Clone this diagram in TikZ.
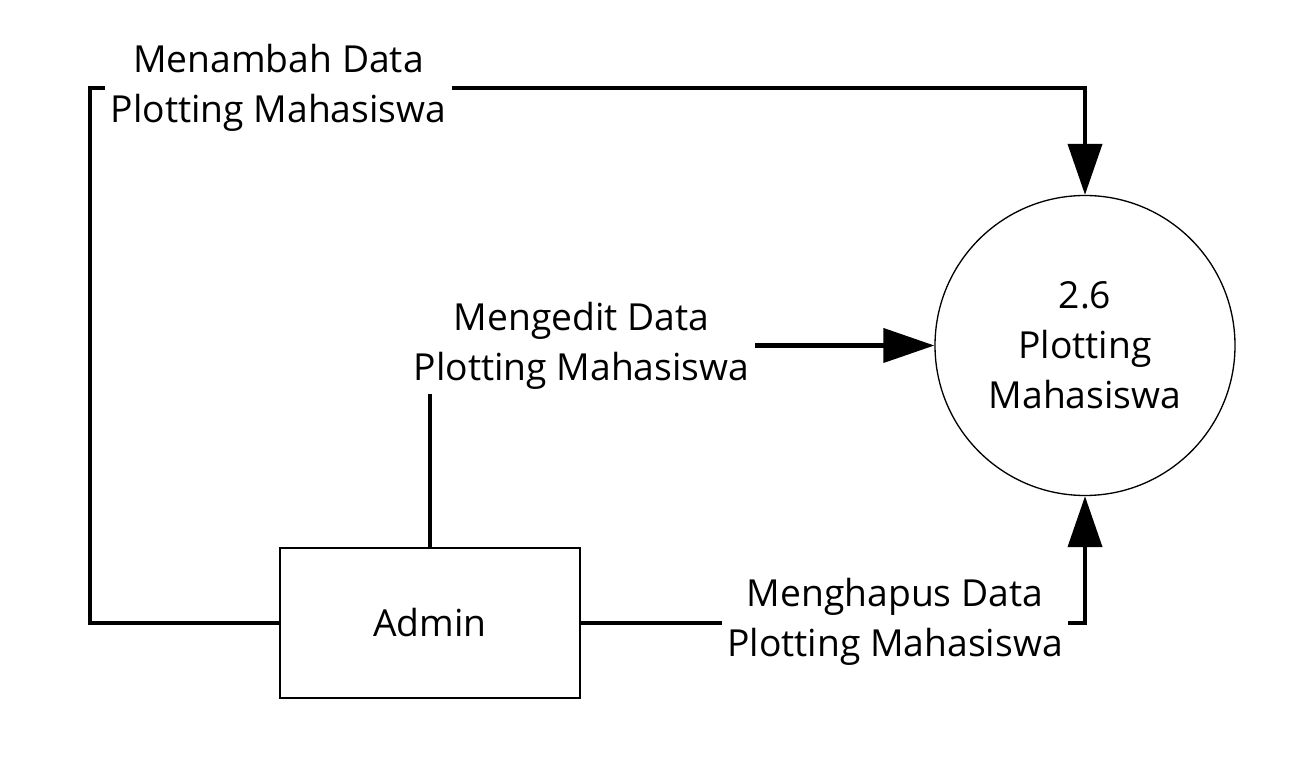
\documentclass[tikz,border=0pt]{standalone}
\usepackage{fontspec}
\setmainfont{Open Sans}
\usepackage{tikz}
\usetikzlibrary{positioning, arrows.meta}

\tikzset{
    proses/.style={circle, draw, line width=0.75pt, minimum size=6cm, align=center},
    entitas/.style={rectangle, draw, line width=0.75pt, minimum width=6cm, minimum height=3cm},
    alur/.style={line width=2.3pt, -{Triangle[length=1.02cm,width=0.68cm]}},
    ket/.style={fill=white, align=center, inner sep=3pt}
}

\begin{document}
\begin{tikzpicture}[font=\fontsize{21.2}{28.5}\selectfont]
        \useasboundingbox (0,0) rectangle (25.78,15.36);
        % Process and entity
        \node[proses] (plot) at (21.7,8.45) {2.6\\Plotting\\Mahasiswa};
        \node[entitas] (admin) at (8.6,2.9) {Admin};
        \coordinate (kiri) at (1.8,13.6);
        % Flows
        \draw[alur] (admin.west) -| (kiri) -| (plot.north);
        \draw[alur] (admin.north) |- (plot.west);
        \draw[alur] (admin.east) -| (plot.south);
        % Labels on flows
        \node[ket] (tambah) at (5.57,13.6) {Menambah Data\\Plotting Mahasiswa};
        \node[ket] (edit) at (11.63,8.45) {Mengedit Data\\Plotting Mahasiswa};
        \node[ket] (hapus) at (17.9,2.92) {Menghapus Data\\Plotting Mahasiswa};
    \end{tikzpicture}
\end{document}
